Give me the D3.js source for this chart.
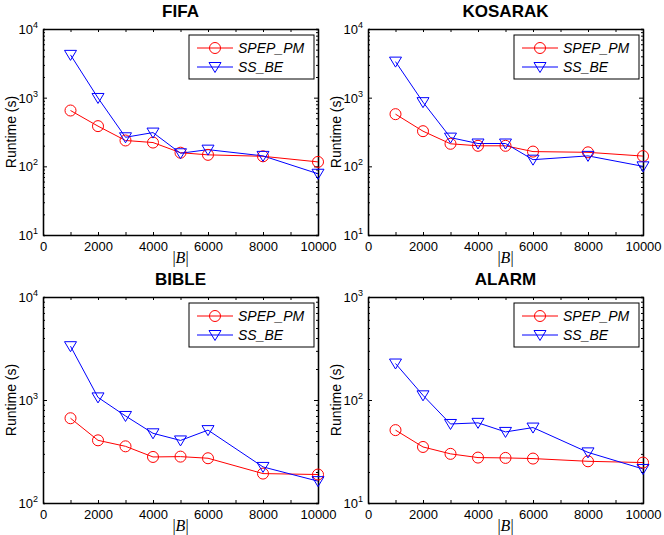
<!DOCTYPE html>
<html>
<head>
<meta charset="utf-8">
<script src="https://cdn.jsdelivr.net/npm/d3@7"></script>
<style>
  body { margin: 0; background: #fff; }
  svg text { font-family: "Liberation Sans", Arial, sans-serif; fill: #000; }
</style>
</head>
<body>
<div id="chart"></div>
<script>
// block sizes shared by every dataset
const block_sizes = [1000, 2000, 3000, 4000, 5000, 6000, 8000, 10000];
const x_ticks = [0, 1000, 2000, 3000, 4000, 5000, 6000, 7000, 8000, 9000, 10000];

const datasets = ["FIFA", "KOSARAK", "BIBLE", "ALARM"];
const series_names = ["SPEP_PM", "SS_BE"];

// runtimes in seconds
const fifa_spep = [650, 385, 238, 222, 158, 147, 140, 116];
const fifa_ssbe = [4200, 990, 265, 310, 155, 175, 142, 78];
const kosarak_spep = [575, 325, 213, 199, 199, 164, 160, 141];
const kosarak_ssbe = [3350, 860, 262, 215, 215, 125, 142, 100];
const bible_spep = [665, 406, 355, 280, 282, 272, 193, 189];
const bible_ssbe = [3330, 1060, 700, 475, 405, 510, 224, 163];
const alarm_spep = [51, 35, 30, 27.6, 27.4, 27, 25.4, 24.7];
const alarm_ssbe = [226, 111, 58.5, 60, 49, 54, 31, 21.4];

// y ranges (decades) for each panel
const y_domains = [[10, 10000], [10, 10000], [100, 10000], [10, 1000]];

const spep_values = [fifa_spep, kosarak_spep, bible_spep, alarm_spep];
const ssbe_values = [fifa_ssbe, kosarak_ssbe, bible_ssbe, alarm_ssbe];

const colors = ["#ff0000", "#0000ff"];

const svg = d3.select("#chart").append("svg")
    .attr("width", 664)
    .attr("height", 535);

const panel_w = 275, panel_h = 206;
const origins = [[43, 29], [368, 29], [43, 297], [368, 297]];

function drawPanel(i) {
    const g = svg.append("g")
        .attr("transform", "translate(" + origins[i][0] + "," + origins[i][1] + ")");

    const x = d3.scaleLinear().domain([0, 10000]).range([0, panel_w]);
    const y = d3.scaleLog().domain(y_domains[i]).range([panel_h, 0]);

    const dom = y_domains[i];
    const majors = [];
    const minors = [];
    for (let p = dom[0]; p <= dom[1]; p *= 10) {
        majors.push(p);
        if (p < dom[1]) for (let k = 2; k <= 9; k++) minors.push(p * k);
    }

    // minor log ticks, both sides
    g.append("g").attr("class", "minor")
        .call(d3.axisLeft(y).tickValues(minors).tickSize(-2).tickFormat(""));
    g.append("g").attr("class", "minor")
        .attr("transform", "translate(" + panel_w + ",0)")
        .call(d3.axisRight(y).tickValues(minors).tickSize(-2).tickFormat(""));

    // left axis with 10^n labels
    const yl = g.append("g")
        .call(d3.axisLeft(y).tickValues(majors).tickSize(-4).tickSizeOuter(0).tickPadding(5));
    yl.selectAll(".tick text")
        .attr("font-size", "13px")
        .attr("dy", "0.35em")
        .text("10")
        .append("tspan")
        .attr("font-size", "9px")
        .attr("dy", "-6")
        .text(d => Math.round(Math.log10(d)));

    g.append("g")
        .attr("transform", "translate(" + panel_w + ",0)")
        .call(d3.axisRight(y).tickValues(majors).tickSize(-4).tickSizeOuter(0).tickFormat(""));

    // bottom and top axes
    const xb = g.append("g")
        .attr("transform", "translate(0," + panel_h + ")")
        .call(d3.axisBottom(x).tickValues(x_ticks).tickSize(-3).tickSizeOuter(0).tickPadding(7)
            .tickFormat(d => d % 2000 === 0 ? d : ""));
    xb.selectAll(".tick text").attr("font-size", "13px");

    g.append("g")
        .call(d3.axisTop(x).tickValues(x_ticks).tickSize(-3).tickSizeOuter(0).tickFormat(""));

    g.selectAll(".domain").attr("stroke", "#000").attr("stroke-width", 1.3);
    g.selectAll(".tick line").attr("stroke", "#000");

    // title
    g.append("text")
        .attr("x", panel_w / 2)
        .attr("y", -12)
        .attr("text-anchor", "middle")
        .attr("font-size", "17px")
        .attr("font-weight", "bold")
        .text(datasets[i]);

    // axis labels
    g.append("text")
        .attr("transform", "translate(-27," + panel_h / 2 + ") rotate(-90)")
        .attr("text-anchor", "middle")
        .attr("font-size", "14px")
        .text("Runtime (s)");

    g.append("text")
        .attr("x", panel_w / 2)
        .attr("y", panel_h + 28)
        .attr("text-anchor", "middle")
        .attr("font-size", "16px")
        .style("font-family", "'Liberation Serif', serif")
        .html("|<tspan font-style='italic'>B</tspan>|");

    const line = d3.line().x((d, j) => x(block_sizes[j])).y(d => y(d));
    const all = [spep_values[i], ssbe_values[i]];

    all.forEach((vals, s) => {
        g.append("path")
            .datum(vals)
            .attr("fill", "none")
            .attr("stroke", colors[s])
            .attr("stroke-width", 1)
            .attr("d", line);
    });

    // circle markers
    g.selectAll(".circ")
        .data(spep_values[i])
        .enter().append("circle")
        .attr("cx", (d, j) => x(block_sizes[j]))
        .attr("cy", d => y(d))
        .attr("r", 5.5)
        .attr("fill", "none")
        .attr("stroke", colors[0]);

    // down triangle markers
    const tri = "M-6,-4.5L6,-4.5L0,5.5Z";
    g.selectAll(".tri")
        .data(ssbe_values[i])
        .enter().append("path")
        .attr("d", tri)
        .attr("transform", (d, j) => "translate(" + x(block_sizes[j]) + "," + y(d) + ")")
        .attr("fill", "none")
        .attr("stroke", colors[1]);

    // legend
    const lw = 125, lh = 44;
    const lg = g.append("g").attr("transform", "translate(" + (panel_w - lw - 4) + ",6)");
    lg.append("rect")
        .attr("width", lw).attr("height", lh)
        .attr("fill", "#fff").attr("stroke", "#000").attr("stroke-width", 1);

    series_names.forEach((name, s) => {
        const cy = 13 + s * 19;
        lg.append("line")
            .attr("x1", 8).attr("x2", 44)
            .attr("y1", cy).attr("y2", cy)
            .attr("stroke", colors[s]);
        if (s === 0) {
            lg.append("circle").attr("cx", 26).attr("cy", cy).attr("r", 5.5)
                .attr("fill", "none").attr("stroke", colors[s]);
        } else {
            lg.append("path").attr("d", tri)
                .attr("transform", "translate(26," + cy + ")")
                .attr("fill", "none").attr("stroke", colors[s]);
        }
        lg.append("text")
            .attr("x", 49).attr("y", cy + 5)
            .attr("font-size", "14px")
            .attr("font-style", "italic")
            .text(name);
    });
}

datasets.forEach((d, i) => drawPanel(i));
</script>
</body>
</html>
